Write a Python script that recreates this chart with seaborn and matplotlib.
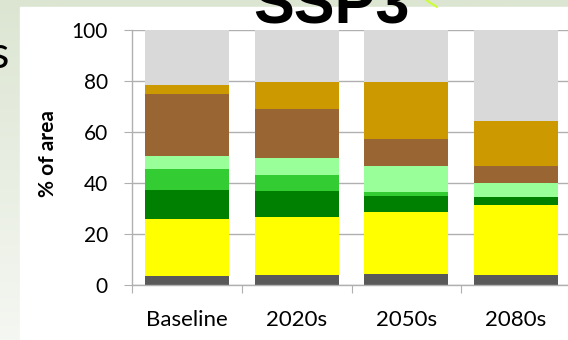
import numpy as np
import matplotlib
matplotlib.use("Agg")
import matplotlib.pyplot as plt
import seaborn as sns
from matplotlib.colors import LinearSegmentedColormap
from matplotlib.lines import Line2D
from matplotlib.patches import Rectangle

# Land-cover shares (% of area) per period, SSP3 scenario
periods = ["Baseline", "2020s", "2050s", "2080s"]
urban = [3.7, 3.9, 4.3, 3.9]
cropland = [22.2, 22.9, 24.5, 27.3]
forest = [11.4, 10.2, 6.2, 3.4]
woodland = [8.3, 6.0, 1.3, 0.0]
grassland = [4.9, 6.7, 10.5, 5.3]
shrubland = [24.4, 19.5, 10.6, 6.9]
pasture = [3.5, 10.5, 22.1, 17.6]
other = [21.6, 20.3, 20.5, 35.6]
yticks = [0, 20, 40, 60, 80, 100]

layers = [urban, cropland, forest, woodland, grassland, shrubland, pasture, other]
colors = ["#595959", "#FFFF00", "#008000", "#33CC33",
          "#99FF99", "#996633", "#CC9900", "#D9D9D9"]

sns.set_theme(style="white")
plt.rcParams["font.family"] = ["Lato", "DejaVu Sans"]

W, H = 568, 340
fig = plt.figure(figsize=(W / 100, H / 100), dpi=100)

# slide-style backdrop: soft green gradient with a white panel on top
bg = fig.add_axes([0, 0, 1, 1], zorder=-10)
grad = np.linspace(0, 1, 256).reshape(-1, 1)
cmap = LinearSegmentedColormap.from_list("bg", ["#DCE5D2", "#F5F7F2"])
bg.imshow(grad, aspect="auto", cmap=cmap, extent=[0, 1, 0, 1], origin="upper")
bg.add_patch(Rectangle((20 / W, 0), 1, 1 - 7 / H, color="white",
                       transform=bg.transAxes))
bg.set_xlim(0, 1)
bg.set_ylim(0, 1)
bg.axis("off")

grey = "#B0B0B0"
ax = fig.add_axes([132 / W, 1 - 285 / H, (571 - 132) / W, 255 / H])
ax.patch.set_alpha(0)

# stacked bars: draw cumulative totals from the top layer down
cum = np.cumsum(np.array(layers), axis=0)
for i in range(len(layers) - 1, -1, -1):
    sns.barplot(x=periods, y=cum[i], color=colors[i], width=0.765,
                saturation=1, linewidth=0, ax=ax, zorder=2)

ax.set_ylim(0, 100)
ax.set_xlim(-0.5, 3.5)
ax.set_yticks(yticks)
ax.set_yticklabels([str(v) for v in yticks])
ax.set_xticks([-0.5, 0.5, 1.5, 2.5, 3.5], minor=True)
ax.set_xlabel("")
ax.set_ylabel("")
ax.yaxis.grid(True, color=grey, linewidth=1)
ax.set_axisbelow(True)

for side in ("top", "right"):
    ax.spines[side].set_visible(False)
for side in ("left", "bottom"):
    ax.spines[side].set_color(grey)
    ax.spines[side].set_linewidth(1)

ax.tick_params(axis="y", which="major", left=True, length=5.8, width=0.8,
               color=grey, pad=11.5, labelsize=15, labelcolor="black")
ax.tick_params(axis="x", which="major", bottom=True, length=0, pad=18,
               labelsize=16, labelcolor="black")
ax.tick_params(axis="x", which="minor", bottom=True, length=5.8, width=0.8,
               color=grey)

fig.text(48 / W, 1 - 154 / H, "% of area", rotation=90, ha="center",
         va="center", fontsize=15, fontweight="bold", color="black")

fig.text(331 / W, 1 - 23 / H, "SSP3", ha="center", va="baseline",
         fontsize=44, fontweight="bold", family=["Liberation Sans"],
         color="black")
fig.text(9 / W, 1 - 68 / H, "s", ha="right", va="baseline", fontsize=32,
         color="black")
fig.add_artist(Line2D([426 / W, 437 / W], [1, 1 - 7 / H], color="#CCFF33",
                      linewidth=1.5, transform=fig.transFigure))

fig.savefig("out.png", dpi=100)
